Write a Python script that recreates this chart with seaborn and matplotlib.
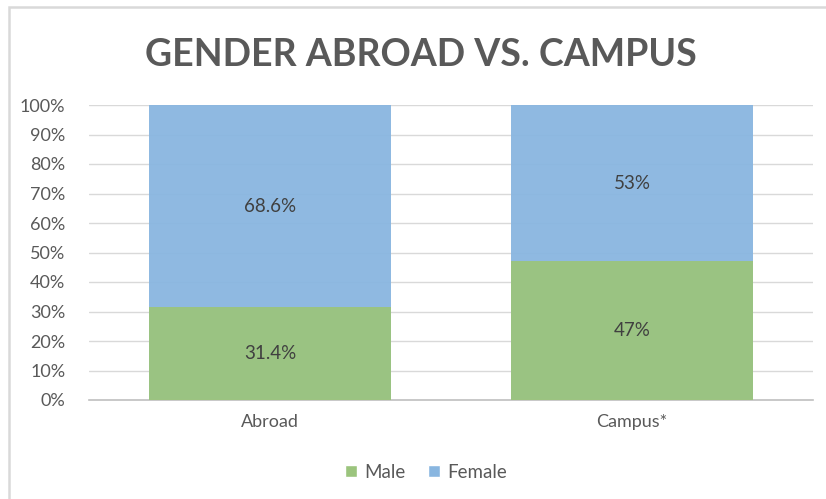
import matplotlib
matplotlib.use("Agg")
import matplotlib.pyplot as plt
import seaborn as sns
import pandas as pd
from matplotlib.patches import Patch, Rectangle
from matplotlib.ticker import PercentFormatter

categories = ["Abroad", "Campus*"]
male = [31.4, 47]
female = [68.6, 53]
male_labels = ["31.4%", "47%"]
female_labels = ["68.6%", "53%"]

GREEN = "#9bc47d"
BLUE = "#89b6e0"
GRAY = "#595959"

sns.set_theme(style="white")
plt.rcParams["font.family"] = ["Lato", "DejaVu Sans"]

df = pd.DataFrame({"cat": categories, "male": male,
                   "total": [m + f for m, f in zip(male, female)]})

fig = plt.figure(figsize=(8.26, 4.99), dpi=100)
ax = fig.add_axes([89 / 826, 1 - 400 / 499, (813 - 89) / 826, (400 - 105) / 499])

ax.set_ylim(0, 100)
ax.set_yticks(range(0, 101, 10))
for yv in range(10, 101, 10):
    ax.axhline(yv, color="#d9d9d9", lw=1.0, zorder=0)

sns.barplot(data=df, x="cat", y="total", color=BLUE, width=0.667, ax=ax,
            saturation=1, zorder=2, alpha=0.95, linewidth=0)
sns.barplot(data=df, x="cat", y="male", color=GREEN, width=0.667, ax=ax,
            saturation=1, zorder=3, alpha=0.95, linewidth=0)
ax.set_xlim(-0.5, 1.5)
ax.set_ylim(0, 100)

for i in range(len(categories)):
    ax.text(i, male[i] / 2, male_labels[i], ha="center", va="center",
            fontsize=13.5, color="#404040", zorder=5)
    ax.text(i, male[i] + female[i] / 2, female_labels[i], ha="center", va="center",
            fontsize=13.5, color="#404040", zorder=5)

ax.yaxis.set_major_formatter(PercentFormatter(100, decimals=0))
ax.set_xlabel("")
ax.set_ylabel("")
ax.tick_params(axis="both", length=0, colors=GRAY, labelsize=13)
ax.tick_params(axis="x", pad=10)
ax.tick_params(axis="y", pad=17)
for s in ["top", "right", "left"]:
    ax.spines[s].set_visible(False)
ax.spines["bottom"].set_color("#bfbfbf")
ax.spines["bottom"].set_linewidth(1.2)

fig.text(421 / 826, 1 - 55 / 499, "GENDER ABROAD VS. CAMPUS", ha="center", va="center",
         fontsize=27, fontweight="bold", color=GRAY)

handles = [Patch(facecolor=GREEN, label="Male"), Patch(facecolor=BLUE, label="Female")]
fig.legend(handles=handles, loc="center", bbox_to_anchor=(426 / 826, 1 - 472 / 499),
           ncol=2, frameon=False, fontsize=13.5, handlelength=0.65, handleheight=0.65,
           handletextpad=0.4, columnspacing=1.2, labelcolor=GRAY)

fig.patches.append(Rectangle((8.5 / 826, -0.1), 1.2, 1 - 7.5 / 499 + 0.1,
                             transform=fig.transFigure, fill=False,
                             edgecolor="#d9d9d9", lw=1.8, zorder=0))

fig.savefig("out.png", dpi=100)
